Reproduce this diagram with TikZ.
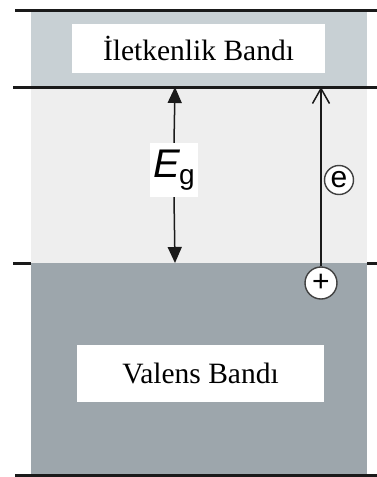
\documentclass[tikz,border=0pt]{standalone}
\usepackage{fontspec}
\setmainfont{Liberation Serif}
\newfontfamily\arialf{Liberation Sans}
\usetikzlibrary{arrows.meta}
\definecolor{cbandc}{HTML}{C8D0D4}
\definecolor{gapc}{HTML}{EEEEEE}
\definecolor{vbandc}{HTML}{9DA6AC}
\definecolor{inkc}{HTML}{1A1A1A}
\begin{document}
\begin{tikzpicture}[x=1pt,y=-1pt,
  level/.style={draw=inkc,line width=3pt},
  labelbox/.style={fill=white,inner sep=0pt,font=\fontsize{29.5}{31}\selectfont},
  charge/.style={circle,draw=black!75,line width=1.4pt,fill=white,inner sep=0pt,font=\arialf\fontsize{30}{30}\selectfont},
  gaparrow/.style={draw=inkc,line width=1.5pt,-{Triangle[length=16pt,width=14pt]}},
  elecarrow/.style={draw=inkc,line width=1.5pt,-{Straight Barb[length=15pt,width=17pt,line width=1.5pt]}}]
\useasboundingbox (0,0) rectangle (377,477);
% bands
\fill[cbandc] (31,10) rectangle (367,87);
\fill[gapc] (31,87) rectangle (367,263);
\fill[vbandc] (31,263) rectangle (367,475);
% level lines
\draw[level] (15,10) -- (377,10);
\draw[level] (13,87) -- (377,87);
\draw[level] (13,263) -- (31,263);
\draw[level] (367,263) -- (377,263);
\draw[level] (15,475) -- (377,475);
% labels
\node[labelbox,minimum width=253pt,minimum height=49pt] (cb) at (198.5,48.5) {İletkenlik Bandı};
\node[labelbox,minimum width=247pt,minimum height=57pt] (vb) at (200.5,373.5) {Valens Bandı};
% band gap
\coordinate (cbedge) at (175,87);
\coordinate (vbedge) at (175,263);
\node[fill=white,inner sep=0pt,minimum width=48pt,minimum height=54pt] (eg) at (174,170)
  {\arialf\fontsize{40}{40}\selectfont\textit{E}\hspace{-1pt}\raisebox{-7pt}{\fontsize{28}{28}\selectfont g}};
\draw[gaparrow] (eg.north) -- (cbedge);
\draw[gaparrow] (eg.south) -- (vbedge);
% electron and hole
\node[charge,minimum size=32pt] (hole) at (321,283) {+};
\node[charge,minimum size=29pt] (elec) at (339,180) {e};
\coordinate (etop) at (321,87);
\draw[elecarrow] (hole.north) -- (etop);
\end{tikzpicture}
\end{document}
